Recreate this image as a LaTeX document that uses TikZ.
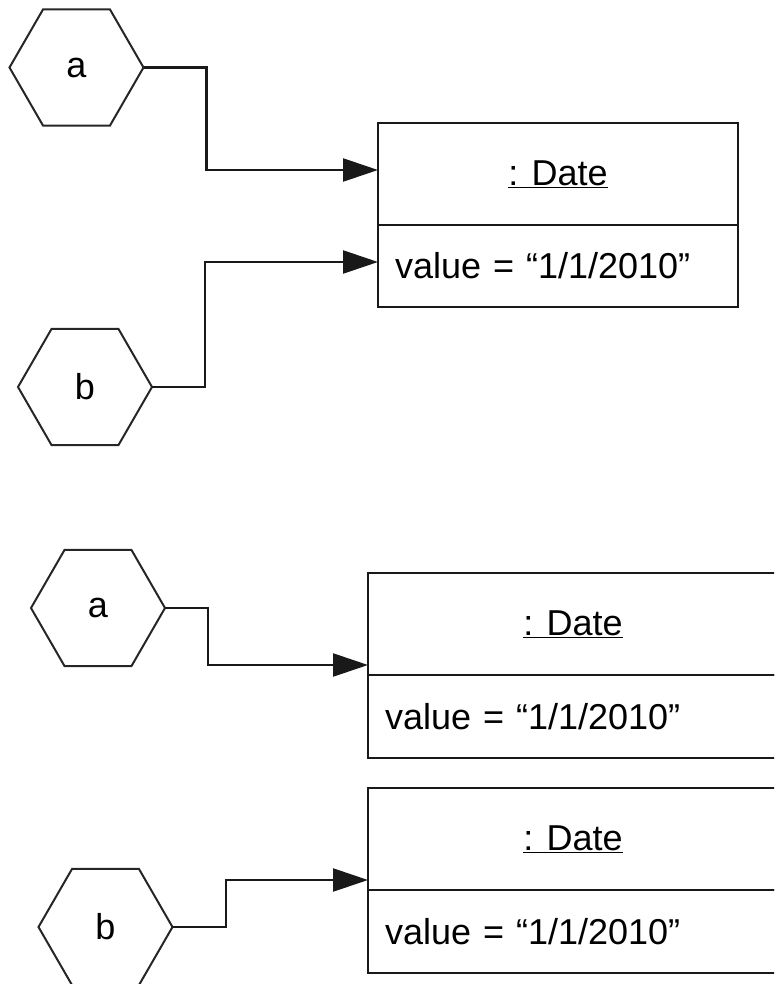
\documentclass[tikz,border=0pt]{standalone}
\usepackage{fontspec}
\setmainfont{Liberation Sans}
\usetikzlibrary{shapes.geometric,arrows.meta}
\begin{document}
\begin{tikzpicture}[x=1pt,y=-1pt,
  refhex/.style={regular polygon, regular polygon sides=6, draw=black!85,
    line width=2pt, minimum size=134pt, inner sep=0pt, outer sep=0pt,
    font=\fontsize{36}{40}\selectfont},
  objhead/.style={draw=black!90, line width=2.6pt, minimum height=102pt,
    inner sep=0pt, outer sep=0pt, font=\fontsize{36}{40}\selectfont},
  objslot/.style={draw=black!90, line width=2.6pt, inner xsep=17pt, inner ysep=0pt,
    outer sep=0pt, align=left, font=\fontsize{36}{40}\selectfont},
  arr/.style={draw=black!90, line width=2.3pt, -{Triangle[length=35pt,width=23pt]}}]
\useasboundingbox (0,0) rectangle (774,984);
\clip (0,0) rectangle (774,984);

% shared object: both references point at one Date
\node[refhex] (a) at (76.5,67.5) {a};
\node[refhex] (b) at (85,387) {b};
\node[objhead, minimum width=360pt] (d1) at (558,174) {\underline{: Date}};
\node[objslot, minimum height=82pt, text width=326pt] (v1) at (558,266)
  {value = “1/1/2010”};
\draw[arr] (a.east) -- ++(63,0) |- ([yshift=4pt]d1.west);
\draw[arr] (b.east) -- ++(53,0) |- ([yshift=4pt]v1.west);

% separate objects: each reference points at its own Date
\node[refhex] (a2) at (98,608) {a};
\node[refhex] (b2) at (105.5,927) {b};
\node[objhead, minimum width=410pt] (d2) at (573,624) {\underline{: Date}};
\node[objslot, minimum height=83pt, text width=376pt] (v2) at (573,716.5)
  {value = “1/1/2010”};
\node[objhead, minimum width=410pt] (d3) at (573,839) {\underline{: Date}};
\node[objslot, minimum height=83pt, text width=376pt] (v3) at (573,931.5)
  {value = “1/1/2010”};
\draw[arr] (a2.east) -- ++(43,0) |- ([yshift=10pt]d2.south west);
\draw[arr] (b2.east) -- ++(53.5,0) |- ([yshift=10pt]d3.south west);
\end{tikzpicture}
\end{document}
